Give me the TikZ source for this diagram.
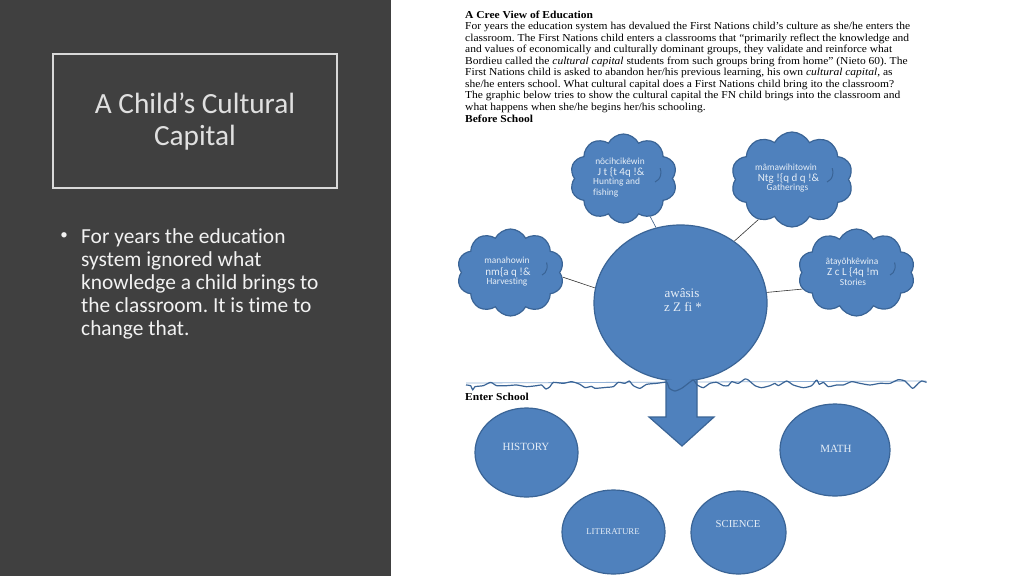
\documentclass[tikz,border=0pt]{standalone}
\usepackage{fontspec}
\setmainfont{Liberation Serif}
\newfontfamily\carl[Ligatures=NoCommon]{Carlito}
\newfontfamily\introf[FakeStretch=1.08]{Liberation Serif}
\usetikzlibrary{shapes.geometric,shapes.symbols}
\definecolor{panel}{HTML}{404040}
\definecolor{blob}{HTML}{4F81BD}
\definecolor{edgeb}{HTML}{3A6496}
\definecolor{pale}{HTML}{E6EEF7}
\pgfdeclarelayer{bg}
\pgfdeclarelayer{links}
\pgfsetlayers{bg,links,main}
\tikzset{
 blobcloud/.style={cloud,cloud puffs=10,cloud puff arc=125,draw=edgeb,fill=blob,line width=1.2pt,inner sep=0pt,minimum width=#1},
 disc/.style={ellipse,draw=edgeb,fill=blob,line width=1.2pt,inner sep=0pt},
 clouds/.style={text=pale,font=\carl\fontsize{9.4}{10}\selectfont,inner sep=0pt},
 cloudm/.style={text=pale,font=\carl\fontsize{11}{12}\selectfont,inner sep=0pt},
 subj/.style={text=pale,inner sep=0pt},
 link/.style={line width=.6pt,draw=black!80},
 inner/.style={draw=edgeb,line width=1pt},
}
\begin{document}
\frenchspacing
\begin{tikzpicture}[x=1pt,y=-1pt]
\useasboundingbox (0,0) rectangle (1024,576);
\begin{pgfonlayer}{bg}
\fill[white] (0,0) rectangle (1024,576);
\fill[panel] (0,0) rectangle (391,576);
\end{pgfonlayer}
\node[draw=white!85!black,line width=1.3pt,minimum width=284pt,minimum height=134pt,inner sep=0pt] (titlebox) at (195,121) {};
\node[text=white!88!black,font=\carl\fontsize{29.3}{32}\selectfont,align=center,inner sep=0pt] (title) at (195,121.5) {A Child’s Cultural\\Capital};
\node[text=white!95!black,font=\carl\fontsize{15}{18}\selectfont,inner sep=0pt] (bullet) at (64,236) {•};
\node[text=white!95!black,font=\carl\fontsize{21.4}{23}\selectfont,align=left,anchor=north west,inner sep=0pt] (body) at (81,228) {For years the education\\system ignored what\\knowledge a child brings to\\the classroom. It is time to\\change that.};

\node[font=\introf\fontsize{10.65}{11.57}\selectfont,align=left,anchor=north west,inner sep=0pt,text=black] (intro) at (465,10.3) {\textbf{A Cree View of Education}\\
For years the education system has devalued the First Nations child’s culture as she/he enters the\\
classroom. The First Nations child enters a classrooms that “primarily reflect the knowledge and\\
and values of economically and culturally dominant groups, they validate and reinforce what\\
Bordieu called the \textit{cultural capital} students from such groups bring from home” (Nieto 60). The\\
First Nations child is asked to abandon her/his previous learning, his own \textit{cultural capital}, as\\
she/he enters school. What cultural capital does a First Nations child bring ito the classroom?\\
The graphic below tries to show the cultural capital the FN child brings into the classroom and\\
what happens when she/he begins her/his schooling.\\
\textbf{Before School}};

\node[disc,minimum width=173pt,minimum height=156pt] (kid) at (680.5,303) {};
\node[blobcloud=107pt,minimum height=89pt] (hunt) at (623.5,178.5) {};
\node[blobcloud=122pt,minimum height=95pt] (gather) at (792,179.5) {};
\node[blobcloud=107pt,minimum height=87pt] (harvest) at (510.5,272.5) {};
\node[blobcloud=117pt,minimum height=87pt] (story) at (856.5,272.5) {};
\begin{pgfonlayer}{links}
\draw[link,draw=blob!70!black] (hunt.-55) -- (kid.108);
\draw[link] (gather.-130) -- (kid.49);
\draw[link] (harvest.-5) -- (kid.170);
\draw[link] (story.197) -- (kid.7);
\end{pgfonlayer}

\draw[inner] (655,182) arc (75:-25:8 and 10);
\draw[inner] (827,182) arc (75:-25:8 and 10);
\draw[inner] (542,275) arc (75:-25:7 and 9);
\draw[inner] (890,275) arc (75:-25:7 and 9);

\node[clouds] (hunta) at (620,161) {nôcihcikêwin};
\node[cloudm] (huntb) at (621,172.5) {J t \{t 4q !\&};
\node[clouds,align=left,anchor=north west] (huntc) at (593,178) {Hunting and\\[1pt]fishing};
\node[clouds] (gathera) at (786,167.5) {mâmawihitowin};
\node[cloudm] (gatherb) at (788.5,178) {Ntg !\{q d q !\&};
\node[clouds] (gatherc) at (787.5,188) {Gatherings};
\node[clouds] (harvesta) at (507,260.5) {manahowin};
\node[cloudm] (harvestb) at (508,272) {nm\{a q !\&};
\node[clouds] (harvestc) at (507,282) {Harvesting};
\node[clouds] (storya) at (852,262) {âtayôhkêwina};
\node[cloudm] (storyb) at (853,272.5) {Z c L \{4q !m};
\node[clouds] (storyc) at (853,282.5) {Stories};
\node[subj,font=\fontsize{13}{14}\selectfont] (kida) at (682,293) {awâsis};
\node[subj,font=\fontsize{13}{14}\selectfont] (kidb) at (683,307) {z Z fi *};

\draw[draw=blob!60!white,line width=.8pt] (466,383) -- (926,381);
\filldraw[fill=blob,draw=edgeb,line width=1.2pt] (666,380) -- (666,417) -- (649,417) -- (682,446) -- (714,417) -- (697,417) -- (697,380);
\begin{scope}[shift={(460,365)},x=.3333pt,y=-.3333pt]
\draw[edgeb,line width=1.2pt,line join=round] plot[smooth,tension=.35] coordinates {(18,60)(32,62)(38,75)(45,65)(70,62)(92,52)(110,62)(140,62)(170,60)(200,65)(230,62)(245,60)(258,72)(270,65)(280,52)(310,55)(335,50)(360,58)(375,68)(395,64)(405,70)(440,67)(460,65)(475,52)(495,55)(508,48)(520,62)(540,70)(560,58)(590,55)(620,52)(628,70)(645,78)(665,70)(685,55)(700,45)(712,60)(730,68)(750,55)(770,52)(790,62)(805,62)(815,50)(835,55)(855,42)(865,45)(885,62)(905,68)(930,62)(945,55)(955,62)(980,48)(1000,60)(1030,68)(1055,62)(1070,45)(1078,58)(1090,52)(1105,65)(1130,60)(1150,60)(1175,50)(1200,55)(1230,60)(1260,55)(1290,55)(1315,44)(1335,48)(1358,70)(1375,55)(1385,48)(1400,52)};
\end{scope}
\node[font=\introf\bfseries\fontsize{10.65}{12}\selectfont,anchor=west,inner sep=0pt] (enter) at (465,396.5) {Enter School};

\node[disc,minimum width=103pt,minimum height=89pt] (hist) at (526.5,452.5) {};
\node[disc,minimum width=110pt,minimum height=92pt] (math) at (835,450) {};
\node[disc,minimum width=103pt,minimum height=84pt] (lit) at (613.5,532) {};
\node[disc,minimum width=95pt,minimum height=83pt] (sci) at (738.5,532.5) {};
\node[subj,font=\fontsize{11}{12}\selectfont] (histt) at (526,447) {HISTORY};
\node[subj,font=\fontsize{11}{12}\selectfont] (matht) at (836,449) {MATH};
\node[subj,font=\fontsize{8.8}{10}\selectfont] (litt) at (613,531.5) {LITERATURE};
\node[subj,font=\fontsize{10.7}{12}\selectfont] (scit) at (738,523.5) {SCIENCE};
\end{tikzpicture}
\end{document}
